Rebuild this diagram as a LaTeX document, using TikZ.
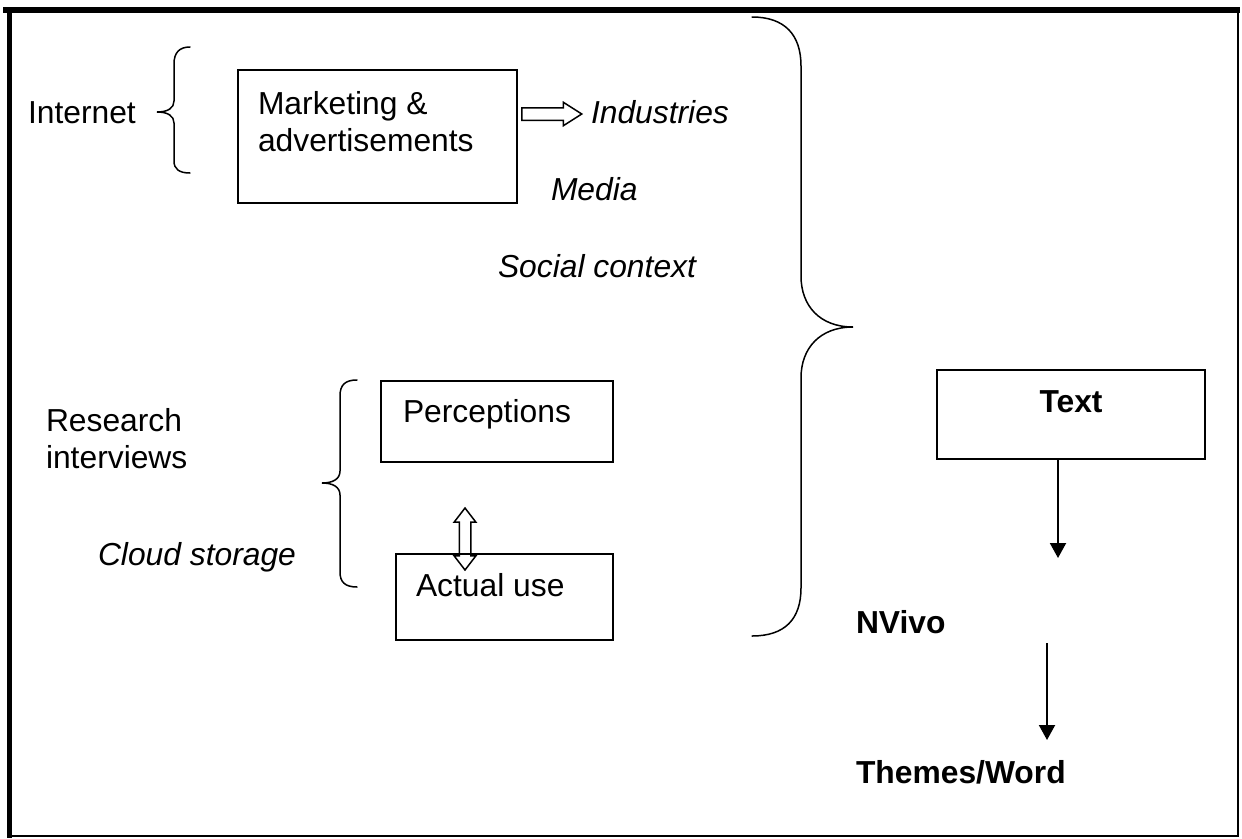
\documentclass[tikz,border=0pt]{standalone}
\usepackage{fontspec}
\setmainfont{Liberation Sans}
\usetikzlibrary{arrows.meta,shapes.arrows}

\begin{document}
\begin{tikzpicture}[x=1pt,y=-1pt,line width=2pt,font=\fontsize{31.8}{37}\selectfont]
    \tikzstyle{boxed}=[draw,rectangle,inner sep=0pt]
    \tikzstyle{txt}=[inner sep=0pt,anchor=base west]
    \tikzstyle{brace}=[line width=1.5pt,line cap=round]
    \tikzstyle{flow}=[-{Triangle[length=15pt,width=16pt]}]
    \tikzstyle{hollow}=[draw,line width=1.5pt,inner xsep=0pt]

    \useasboundingbox (0,0) rectangle (1242,838);

    % outer frame, heavy on top and left
    \draw[line width=6pt] (3,10) -- (1240,10);
    \draw[line width=5pt] (9,7) -- (9,838);
    \draw (1238,8) -- (1238,836) -- (7,836);

    % internet sources
    \node[txt] (internet) at (27,123) {Internet};
    \draw[brace] (190,47) .. controls (179,47) and (174,53) .. (174,64) -- (174,101)
        .. controls (174,108) and (168,112) .. (157,112)
        .. controls (168,112) and (174,116) .. (174,123) -- (174,161)
        .. controls (174,169) and (179,173) .. (190,173);
    \node[boxed,minimum width=279pt,minimum height=133pt] (mkt) at (377.5,136.5) {};
    \node[txt,align=left] (mkt-text) at (257,151) {Marketing \&\\advertisements};
    \node[single arrow,hollow,inner ysep=5.5pt,minimum height=60pt,
        single arrow head extend=5.5pt,single arrow tip angle=65,anchor=tail]
        (mkt-arr) at ([shift={(3,-22.5)}]mkt.east) {};
    \node[txt] (industries) at (590,123) {\itshape Industries};
    \node[txt] (media) at (550,200) {\itshape Media};
    \node[txt] (social) at (497,277) {\itshape Social context};

    % interviews
    \node[txt,align=left] (research) at (45,468) {Research\\interviews};
    \node[txt] (cloud) at (97,565) {\itshape Cloud storage};
    \draw[brace] (357,380) .. controls (345,380) and (340,385) .. (340,396) -- (340,471)
        .. controls (340,479) and (333,483) .. (322,483)
        .. controls (333,483) and (340,487) .. (340,495) -- (340,572)
        .. controls (340,582) and (345,587) .. (357,587);
    \node[boxed,minimum width=232pt,minimum height=81pt] (perc) at (497,421.5) {};
    \node[txt] (perc-text) at (402,422) {Perceptions};
    \node[boxed,minimum width=217pt,minimum height=86pt] (act) at (504.5,597) {};
    \node[txt] (act-text) at (415,596) {Actual use};
    \node[double arrow,hollow,inner ysep=5pt,minimum height=62pt,
        double arrow head extend=5pt,double arrow tip angle=75,rotate=90]
        (swap) at (465,539) {};

    % everything gathered into the text
    \draw[brace] (752,17) .. controls (785,17) and (801,35) .. (801,66) -- (801,276)
        .. controls (801,306) and (820,327) .. (853,327)
        .. controls (820,327) and (801,348) .. (801,378) -- (801,588)
        .. controls (801,619) and (785,636) .. (752,636);

    % analysis
    \node[boxed,minimum width=268pt,minimum height=89pt] (txtbox) at (1071,414.5) {};
    \node[txt,anchor=base] (txt-label) at (1071,412) {\bfseries Text};
    \node[txt] (nvivo) at (855,633) {\bfseries NVivo};
    \node[txt] (themes) at (855,783) {\bfseries Themes/Word};
    \coordinate (nvivo-in) at (1058,558);
    \coordinate (themes-out) at (1047,643);
    \coordinate (themes-in) at (1047,740);
    \draw[flow] (txtbox.south -| nvivo-in) -- (nvivo-in);
    \draw[flow] (themes-out) -- (themes-in);
\end{tikzpicture}
\end{document}
